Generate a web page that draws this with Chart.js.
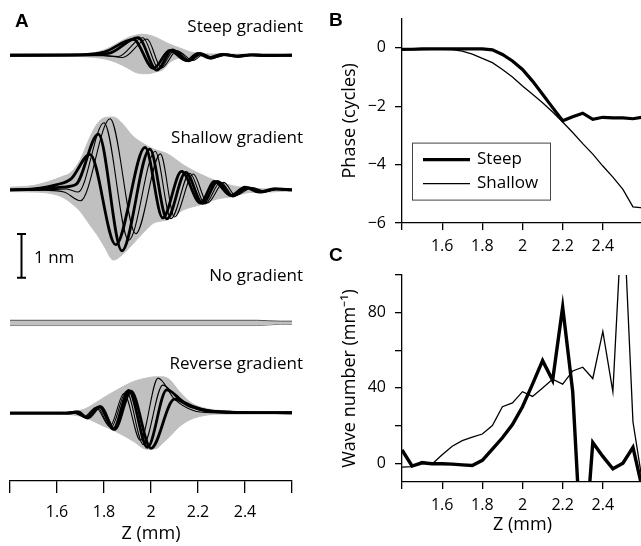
<!DOCTYPE html>
<html>
<head>
<meta charset="utf-8">
<script src="https://cdn.jsdelivr.net/npm/chart.js@4.4.1/dist/chart.umd.min.js"></script>
<style>
  html, body { margin: 0; padding: 0; background: #fff; overflow: hidden; }
  body { width: 641px; height: 546px; position: relative; }
  canvas { position: absolute; }
  .lbl { position: absolute; font: bold 19px "Liberation Sans", Arial, sans-serif; line-height: 19px; color: #000; }
</style>
</head>
<body>
<canvas id="waveChart" width="310" height="546" style="left:0;top:0"></canvas>
<canvas id="phaseChart" width="320" height="262" style="left:330px;top:0"></canvas>
<canvas id="kChart" width="320" height="291" style="left:330px;top:255px"></canvas>
<div class="lbl" style="left:15px;top:11px">A</div>
<div class="lbl" style="left:329px;top:10px">B</div>
<div class="lbl" style="left:329px;top:245px">C</div>
<script>
// ---------- shared axis ----------
const zTicks = [1.4, 1.6, 1.8, 2.0, 2.2, 2.4, 2.6];
const zTickLabels = ['', '1.6', '1.8', '2', '2.2', '2.4', ''];

// ---------- panel A : displacement snapshots (nm) ----------
const subpanelNames = ['Steep gradient', 'Shallow gradient', 'No gradient', 'Reverse gradient'];

// steep gradient
const steepEnvZ   = [1.40, 1.70, 1.76, 1.80, 1.85, 1.90, 1.93, 1.96, 1.99, 2.02, 2.05, 2.08, 2.12, 2.18, 2.25, 2.60];
const steepEnvUp  = [0.02, 0.03, 0.06, 0.12, 0.25, 0.40, 0.45, 0.48, 0.46, 0.41, 0.33, 0.25, 0.17, 0.06, 0.03, 0.02];
const steepEnvLow = [-0.02, -0.03, -0.05, -0.08, -0.16, -0.29, -0.38, -0.42, -0.42, -0.38, -0.33, -0.16, -0.06, -0.03, -0.02, -0.02];
const steepZ1 = [1.40, 1.70, 1.80, 1.925, 2.01, 2.08, 2.15, 2.20, 2.245, 2.30, 2.36, 2.42, 2.48, 2.60];
const steepV1 = [0.0, 0.01, 0.07, 0.36, -0.30, 0.11, -0.12, 0.04, -0.06, 0.02, -0.02, 0.01, 0.0, 0.0];
const steepZ2 = [1.40, 1.72, 1.82, 1.945, 2.025, 2.09, 2.16, 2.21, 2.255, 2.31, 2.37, 2.43, 2.49, 2.60];
const steepV2 = [0.0, 0.01, 0.04, 0.40, -0.34, 0.12, -0.13, 0.04, -0.07, 0.02, -0.03, 0.01, -0.01, 0.0];
const steepZ3 = [1.40, 1.78, 1.86, 1.965, 2.035, 2.10, 2.17, 2.215, 2.26, 2.32, 2.38, 2.44, 2.50, 2.60];
const steepV3 = [0.0, 0.0, -0.03, 0.40, -0.32, 0.11, -0.12, 0.03, -0.06, 0.02, -0.02, 0.01, 0.0, 0.0];
const steepZ4 = [1.40, 1.80, 1.88, 1.983, 2.045, 2.11, 2.18, 2.225, 2.265, 2.33, 2.39, 2.45, 2.51, 2.60];
const steepV4 = [0.0, -0.01, -0.05, 0.37, -0.29, 0.10, -0.12, 0.03, -0.06, 0.02, -0.02, 0.01, 0.0, 0.0];

// shallow gradient
const shallowEnvZ   = [1.40, 1.50, 1.57, 1.62, 1.66, 1.70, 1.74, 1.77, 1.80, 1.84, 1.88, 1.92, 1.96, 2.01, 2.07, 2.14, 2.21, 2.28, 2.35, 2.42, 2.50, 2.60];
const shallowEnvUp  = [0.06, 0.10, 0.20, 0.30, 0.40, 0.70, 1.20, 1.50, 1.64, 1.66, 1.50, 1.24, 1.08, 0.93, 0.82, 0.56, 0.36, 0.20, 0.09, 0.04, 0.02, 0.02];
const shallowEnvLow = [-0.04, -0.05, -0.08, -0.16, -0.30, -0.50, -0.80, -1.02, -1.28, -1.60, -1.47, -1.25, -1.02, -0.76, -0.68, -0.45, -0.34, -0.21, -0.15, -0.06, -0.05, -0.02];
const shallowZ1 = [1.40, 1.50, 1.60, 1.66, 1.74, 1.85, 1.975, 2.05, 2.13, 2.21, 2.27, 2.34, 2.40, 2.46, 2.52, 2.60];
const shallowV1 = [0.0, 0.02, 0.12, 0.25, 0.81, -1.25, 0.97, -0.64, 0.42, -0.30, 0.19, -0.13, 0.06, -0.05, 0.02, 0.0];
const shallowZ2 = [1.40, 1.50, 1.62, 1.68, 1.776, 1.876, 1.995, 2.068, 2.148, 2.22, 2.283, 2.347, 2.41, 2.47, 2.53, 2.60];
const shallowV2 = [0.0, 0.01, 0.06, 0.12, 1.27, -1.39, 0.93, -0.66, 0.40, -0.31, 0.19, -0.14, 0.05, -0.05, 0.02, 0.0];
const shallowZ3 = [1.40, 1.55, 1.64, 1.69, 1.80, 1.905, 2.018, 2.085, 2.165, 2.23, 2.296, 2.353, 2.42, 2.48, 2.54, 2.60];
const shallowV3 = [0.0, 0.0, 0.02, -0.05, 1.53, -1.15, 0.88, -0.66, 0.38, -0.32, 0.18, -0.14, 0.05, -0.05, 0.02, 0.0];
const shallowZ4 = [1.40, 1.55, 1.63, 1.70, 1.826, 1.935, 2.04, 2.10, 2.18, 2.24, 2.31, 2.36, 2.43, 2.49, 2.55, 2.60];
const shallowV4 = [0.0, -0.01, -0.05, -0.25, 1.62, -1.00, 0.82, -0.62, 0.36, -0.30, 0.17, -0.13, 0.05, -0.04, 0.02, 0.0];

// no gradient
const noneEnvZ   = [1.40, 2.45, 2.55, 2.60];
const noneEnvUp  = [0.05, 0.05, 0.03, 0.03];
const noneEnvLow = [-0.07, -0.07, -0.04, -0.04];

// reverse gradient
const revEnvZ   = [1.40, 1.60, 1.67, 1.72, 1.75, 1.80, 1.855, 1.925, 1.98, 2.02, 2.05, 2.08, 2.12, 2.17, 2.24, 2.30, 2.40, 2.60];
const revEnvUp  = [0.02, 0.02, 0.04, 0.10, 0.19, 0.36, 0.53, 0.72, 0.80, 0.83, 0.83, 0.76, 0.50, 0.24, 0.10, 0.06, 0.03, 0.02];
const revEnvLow = [-0.02, -0.02, -0.04, -0.10, -0.17, -0.30, -0.43, -0.64, -0.82, -0.81, -0.68, -0.53, -0.31, -0.14, -0.04, -0.02, -0.02, -0.02];
const revZ1 = [1.40, 1.62, 1.66, 1.715, 1.765, 1.825, 1.885, 1.955, 2.03, 2.10, 2.18, 2.26, 2.60];
const revV1 = [0.0, 0.0, 0.03, -0.08, 0.13, -0.30, 0.45, -0.62, 0.80, 0.32, 0.06, 0.01, 0.0];
const revZ2 = [1.40, 1.63, 1.67, 1.72, 1.77, 1.83, 1.895, 1.968, 2.05, 2.12, 2.20, 2.28, 2.60];
const revV2 = [0.0, 0.0, 0.03, -0.09, 0.14, -0.33, 0.50, -0.72, 0.64, 0.30, 0.08, 0.02, 0.0];
const revZ3 = [1.40, 1.64, 1.68, 1.725, 1.78, 1.84, 1.905, 1.985, 2.067, 2.14, 2.22, 2.30, 2.60];
const revV3 = [0.0, 0.0, 0.03, -0.10, 0.15, -0.36, 0.52, -0.78, 0.53, 0.25, 0.08, 0.03, 0.01];
const revZ4 = [1.40, 1.65, 1.69, 1.73, 1.785, 1.845, 1.915, 2.00, 2.10, 2.17, 2.25, 2.35, 2.60];
const revV4 = [0.0, 0.0, 0.03, -0.11, 0.15, -0.37, 0.50, -0.80, 0.32, 0.15, 0.05, 0.02, 0.01];

// ---------- panel B / C : phase and wave number ----------
const zGrid = [1.40, 1.45, 1.50, 1.55, 1.60, 1.65, 1.70, 1.75, 1.80, 1.85, 1.90, 1.95, 2.00,
               2.05, 2.10, 2.15, 2.20, 2.25, 2.30, 2.35, 2.40, 2.45, 2.50, 2.55, 2.60];
const steepPhase   = [-0.05, -0.05, -0.04, -0.04, -0.04, -0.04, -0.04, -0.04, -0.04, -0.07, -0.23, -0.45, -0.74,
                      -1.14, -1.59, -2.05, -2.50, -2.36, -2.24, -2.45, -2.38, -2.40, -2.40, -2.43, -2.37];
const shallowPhase = [-0.08, -0.07, -0.06, -0.05, -0.05, -0.06, -0.11, -0.22, -0.36, -0.51, -0.74, -1.00, -1.31,
                      -1.59, -1.88, -2.20, -2.54, -2.90, -3.28, -3.64, -4.05, -4.43, -4.85, -5.45, -5.48];
const phaseTicks = [0, -2, -4, -6];
const phaseTickLabels = ['0', '\u22122', '\u22124', '\u22126'];

const steepWave   = [7, -1.5, 0.2, -0.3, -0.3, -0.5, -0.9, -1.2, 1.5, 7.5, 13.5, 20.5, 30,
                     42, 54.5, 44, 83, 38, -60, 11, 3.6, -3, 0, 8.4, -15];
const shallowWave = [-2.1, -1.8, 0.9, -0.4, 4.5, 9, 12, 13.8, 15.5, 20, 30, 32, 38,
                     35.5, 40, 44.6, 42, 49, 51, 45, 70, 38, 141, 22, -12];
const waveTicks = [0, 20, 40, 60, 80, 100];
const waveTickLabels = ['0', '', '40', '', '80', ''];

// ---------- helpers ----------
Chart.defaults.font.family = '"Open Sans", sans-serif';
Chart.defaults.color = '#000';
const envGray = '#c0c0c0';
const thick = 2.8, thin = 1.1;
const pts = (zs, vs) => zs.map((z, i) => ({x: z, y: vs[i]}));

function envelopeSets(axis, zs, up, low, edge) {
  return [
    {data: pts(zs, up), yAxisID: axis, fill: '+1', backgroundColor: envGray,
     borderColor: edge || envGray, borderWidth: 1, order: 2},
    {data: pts(zs, low), yAxisID: axis, fill: false,
     borderColor: edge || envGray, borderWidth: 1, order: 2}
  ];
}
const trace = (axis, zs, vs, w) =>
  ({data: pts(zs, vs), yAxisID: axis, fill: false, borderColor: '#000', borderWidth: w, order: 1});

const zAxis = (tickLen, pad, height, title, titlePad) => ({
  type: 'linear', min: 1.4, max: 2.6,
  afterBuildTicks: s => { s.ticks = zTicks.map(v => ({value: v})); },
  afterFit: s => { s.height = height; },
  ticks: {callback: (v, i) => zTickLabels[i], padding: pad, font: {size: 16}, maxRotation: 0, autoSkip: false},
  grid: {drawOnChartArea: false, tickLength: tickLen, color: '#000', lineWidth: 1.3},
  border: {color: '#000', width: 1.3},
  title: {display: !!title, text: title, font: {size: 18}, padding: {top: 0, bottom: titlePad}}
});

// ---------- panel A ----------
const nmPx = 44;                       // 1 nm on screen
const rowBase = {ySteep: 54, yShallow: 189, yNone: 322, yReverse: 413};
const nameBaselines = [32, 143, 281, 369];

const panelAText = {
  id: 'panelAText',
  afterDraw(chart) {
    const ctx = chart.ctx;
    ctx.save();
    ctx.fillStyle = '#000';
    ctx.font = '17px "Open Sans", sans-serif';
    ctx.textAlign = 'right';
    subpanelNames.forEach((n, i) => ctx.fillText(n, 303, nameBaselines[i]));
    // 1 nm scale bar
    const ys = chart.scales.yShallow;
    const len = ys.getPixelForValue(0) - ys.getPixelForValue(1);
    const x = 21.5, top = 234;
    ctx.strokeStyle = '#000';
    ctx.lineWidth = 2;
    ctx.beginPath();
    ctx.moveTo(x, top); ctx.lineTo(x, top + len);
    ctx.moveTo(x - 4.5, top); ctx.lineTo(x + 4.5, top);
    ctx.moveTo(x - 4.5, top + len); ctx.lineTo(x + 4.5, top + len);
    ctx.stroke();
    ctx.textAlign = 'left';
    ctx.fillText('1 nm', 34, 263);
    ctx.restore();
  }
};

const waveSets = [
  ...envelopeSets('ySteep', steepEnvZ, steepEnvUp, steepEnvLow),
  trace('ySteep', steepZ1, steepV1, thick), trace('ySteep', steepZ2, steepV2, thick),
  trace('ySteep', steepZ3, steepV3, thin), trace('ySteep', steepZ4, steepV4, thin),
  ...envelopeSets('yShallow', shallowEnvZ, shallowEnvUp, shallowEnvLow),
  trace('yShallow', shallowZ1, shallowV1, thick), trace('yShallow', shallowZ2, shallowV2, thick),
  trace('yShallow', shallowZ3, shallowV3, thin), trace('yShallow', shallowZ4, shallowV4, thin),
  ...envelopeSets('yNone', noneEnvZ, noneEnvUp, noneEnvLow, '#555'),
  ...envelopeSets('yReverse', revEnvZ, revEnvUp, revEnvLow),
  trace('yReverse', revZ1, revV1, thin), trace('yReverse', revZ2, revV2, thin),
  trace('yReverse', revZ3, revV3, thick), trace('yReverse', revZ4, revV4, thick)
];

const waveChart = new Chart(document.getElementById('waveChart'), {
  type: 'line',
  data: {datasets: waveSets},
  options: {
    responsive: false, animation: false,
    layout: {padding: {left: 10, right: 18, top: 0, bottom: 0}},
    plugins: {legend: {display: false}, tooltip: {enabled: false}},
    elements: {point: {radius: 0}, line: {cubicInterpolationMode: 'monotone'}},
    scales: {
      x: zAxis(12, 10, 65, 'Z (mm)', 1),
      ySteep: {display: false}, yShallow: {display: false},
      yNone: {display: false}, yReverse: {display: false}
    }
  },
  plugins: [panelAText]
});
// put each row's zero line where it belongs
const area = waveChart.chartArea;
Object.keys(rowBase).forEach(id => {
  waveChart.options.scales[id].min = -(area.bottom - rowBase[id]) / nmPx;
  waveChart.options.scales[id].max = (rowBase[id] - area.top) / nmPx;
});
waveChart.update('none');

// ---------- panel B ----------
const boxLegend = {
  id: 'boxLegend',
  afterDraw(chart) {
    const ctx = chart.ctx, a = chart.chartArea;
    const bx = a.left + 10, by = a.top + 124, bw = 138, bh = 57;
    ctx.save();
    ctx.strokeStyle = '#444';
    ctx.lineWidth = 1;
    ctx.strokeRect(bx + 0.5, by + 0.5, bw, bh);
    ctx.font = '17px "Open Sans", sans-serif';
    ctx.fillStyle = '#000';
    ctx.textBaseline = 'middle';
    chart.data.datasets.forEach((ds, i) => {
      const y = by + 17 + i * 24;
      ctx.strokeStyle = '#000';
      ctx.lineWidth = ds.borderWidth;
      ctx.beginPath();
      ctx.moveTo(bx + 11, y); ctx.lineTo(bx + 58, y);
      ctx.stroke();
      ctx.fillText(ds.label, bx + 65, y);
    });
    ctx.restore();
  }
};

const yAxis = (min, max, ticks, labels, title) => ({
  min: min, max: max,
  afterBuildTicks: s => { s.ticks = ticks.map(v => ({value: v})); },
  afterFit: s => { s.width = 72; },
  ticks: {callback: (v, i) => labels[i], padding: 9, font: {size: 16}, autoSkip: false},
  grid: {drawOnChartArea: false, tickLength: 7, color: '#000', lineWidth: 1.3},
  border: {color: '#000', width: 1.3},
  title: {display: true, text: title, font: {size: 18}, padding: {top: 9, bottom: 0}}
});

new Chart(document.getElementById('phaseChart'), {
  type: 'line',
  data: {datasets: [
    {label: 'Steep', data: pts(zGrid, steepPhase), borderColor: '#000', borderWidth: 3.2},
    {label: 'Shallow', data: pts(zGrid, shallowPhase), borderColor: '#000', borderWidth: 1.3}
  ]},
  options: {
    responsive: false, animation: false,
    layout: {padding: {left: 0, right: 6.5, top: 18, bottom: 0}},
    plugins: {legend: {display: false}, tooltip: {enabled: false}},
    elements: {point: {radius: 0}, line: {tension: 0}},
    scales: {
      x: zAxis(7, 7, 39, '', 0),
      y: yAxis(-6, 1, phaseTicks, phaseTickLabels, 'Phase (cycles)')
    }
  },
  plugins: [boxLegend]
});

// ---------- panel C ----------
new Chart(document.getElementById('kChart'), {
  type: 'line',
  data: {datasets: [
    {label: 'Steep', data: pts(zGrid, steepWave), borderColor: '#000', borderWidth: 3.4},
    {label: 'Shallow', data: pts(zGrid, shallowWave), borderColor: '#000', borderWidth: 1.3}
  ]},
  options: {
    responsive: false, animation: false,
    layout: {padding: {left: 0, right: 6.5, top: 20, bottom: 0}},
    plugins: {legend: {display: false}, tooltip: {enabled: false}},
    elements: {point: {radius: 0}, line: {tension: 0}},
    scales: {
      x: zAxis(7, 7, 64, 'Z (mm)', 10),
      y: yAxis(-10, 100, waveTicks, waveTickLabels, 'Wave number (mm\u207B\u00B9)')
    }
  }
});
</script>
</body>
</html>
